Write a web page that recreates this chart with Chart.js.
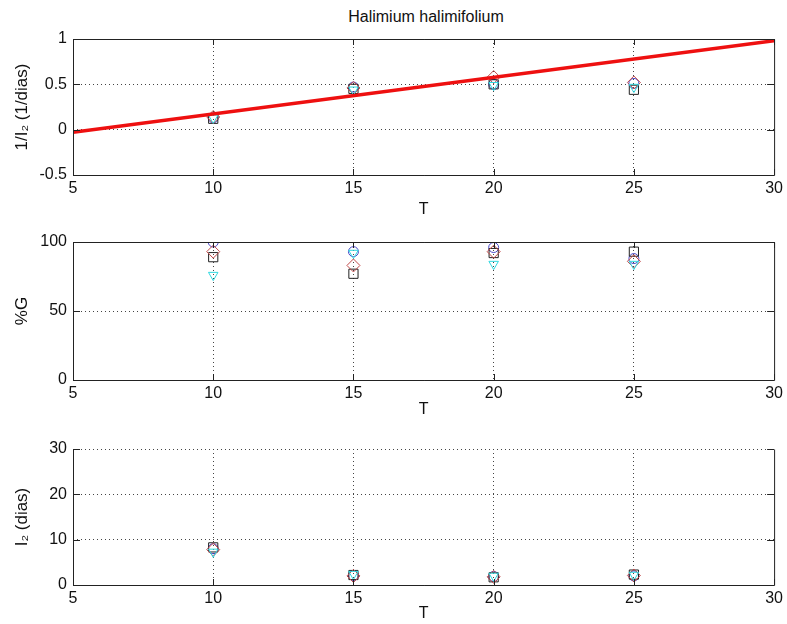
<!DOCTYPE html>
<html>
<head>
<meta charset="utf-8">
<script src="https://cdn.jsdelivr.net/npm/chart.js@4.4.1/dist/chart.umd.min.js"></script>
<style>
  body { margin: 0; background: #fff; width: 787px; height: 624px; position: relative; overflow: hidden; }
  canvas { position: absolute; left: 0; }
  #title { position: absolute; top: 8px; left: 73px; width: 706px; text-align: center; font: 16px "Liberation Sans", Arial, sans-serif; color: #111; }
</style>
</head>
<body>
<div id="title">Halimium halimifolium</div>
<canvas id="rateChart" width="787" height="220" style="top:0px"></canvas>
<canvas id="germChart" width="787" height="200" style="top:220px"></canvas>
<canvas id="daysChart" width="787" height="204" style="top:420px"></canvas>
<script>
const temps = [10, 15, 20, 25];
const xTicks = [5, 10, 15, 20, 25, 30];

// 1/I2 (1/dias)
const rateCircle = [0.13, 0.47, 0.50, 0.51];
const rateSquare = [0.12, 0.45, 0.50, 0.44];
const rateDiamond = [0.14, 0.46, 0.58, 0.52];
const rateTriangle = [0.13, 0.44, 0.49, 0.47];
const fitT = [5, 30];
const fitRate = [-0.03, 0.98];

// %G
const germCircle = [100, 93, 96, 88];
const germSquare = [89, 77, 92, 93];
const germDiamond = [93, 83, 93, 86];
const germTriangle = [76, 92, 84, 84];

// I2 (dias)
const daysCircle = [8.0, 2.1, 1.9, 2.0];
const daysSquare = [8.3, 2.2, 1.7, 2.3];
const daysDiamond = [7.8, 2.0, 1.8, 2.1];
const daysTriangle = [7.3, 2.4, 2.0, 2.2];

const FONT = '"Liberation Sans", Arial, sans-serif';
const pts = (xs, ys) => xs.map((x, i) => ({ x: x, y: ys[i] }));

function markerSets(c, s, d, t) {
    const base = { type: 'scatter', showLine: false, backgroundColor: 'transparent', borderWidth: 1, pointBorderWidth: 1 };
    return [
        { ...base, data: pts(temps, t), pointStyle: 'triangle', pointRotation: 180, pointRadius: 5.5, borderColor: '#30d8e0' },
        { ...base, data: pts(temps, d), pointStyle: 'rectRot', pointRadius: 6.5, borderColor: '#c04848' },
        { ...base, data: pts(temps, s), pointStyle: 'rect', pointRadius: 6.5, borderColor: '#202020' },
        { ...base, data: pts(temps, c), pointStyle: 'circle', pointRadius: 5, borderColor: '#4a48c8' }
    ];
}

// MATLAB-like box with inward ticks
const boxPlugin = {
    id: 'box',
    afterDraw(chart, args, opts) {
        const { ctx, chartArea: a, scales } = chart;
        ctx.save();
        ctx.strokeStyle = '#222';
        ctx.lineWidth = 1;
        ctx.beginPath();
        ctx.moveTo(a.left + 0.5, a.top + 0.5);
        ctx.lineTo(a.left + 0.5, a.bottom + 0.5);
        ctx.lineTo(a.right + 0.5, a.bottom + 0.5);
        ctx.lineTo(a.right + 0.5, a.top + 0.5);
        if (opts.topSolid) ctx.lineTo(a.left + 0.5, a.top + 0.5);
        scales.x.ticks.forEach(t => {
            const px = Math.round(scales.x.getPixelForValue(t.value)) + 0.5;
            ctx.moveTo(px, a.bottom); ctx.lineTo(px, a.bottom - 6);
            if (opts.topSolid) { ctx.moveTo(px, a.top); ctx.lineTo(px, a.top + 6); }
        });
        scales.y.ticks.forEach(t => {
            const py = Math.round(scales.y.getPixelForValue(t.value)) + 0.5;
            ctx.moveTo(a.left, py); ctx.lineTo(a.left + 7, py);
            ctx.moveTo(a.right, py); ctx.lineTo(a.right - 7, py);
        });
        ctx.stroke();
        ctx.restore();
    }
};

function makeChart(id, datasets, y, xHeight, topPad, topSolid) {
    const gridColor = (scaleMin, scaleMax, keepMax) => c =>
        (c.tick.value === scaleMin || (c.tick.value === scaleMax && !keepMax)) ? 'rgba(0,0,0,0)' : '#444';
    return new Chart(document.getElementById(id), {
        data: { datasets: datasets },
        plugins: [boxPlugin],
        options: {
            responsive: false, animation: false, devicePixelRatio: 1,
            layout: { padding: { top: topPad, right: 8, left: 0, bottom: 0 } },
            plugins: { legend: { display: false }, tooltip: { enabled: false }, box: { topSolid: topSolid } },
            scales: {
                x: {
                    type: 'linear', min: 5, max: 30,
                    afterBuildTicks: s => { s.ticks = xTicks.map(v => ({ value: v })); },
                    afterFit: s => { s.height = xHeight; },
                    grid: { color: gridColor(5, 30, false), drawTicks: false },
                    border: { display: false, dash: [1, 3] },
                    ticks: { padding: 4, color: '#111', font: { family: FONT, size: 16 }, callback: v => String(v) },
                    title: { display: true, text: 'T', color: '#111', font: { family: FONT, size: 16 }, padding: { top: 0, bottom: 1 } }
                },
                y: {
                    type: 'linear', min: y.min, max: y.max,
                    afterBuildTicks: s => { s.ticks = y.ticks.map(v => ({ value: v })); },
                    afterFit: s => { s.width = 73; },
                    grid: { color: gridColor(y.min, y.max, !topSolid), drawTicks: false },
                    border: { display: false, dash: [1, 3] },
                    ticks: { padding: 6, color: '#111', font: { family: FONT, size: 16 }, callback: v => String(v) },
                    title: { display: true, text: y.title, color: '#111', font: { family: FONT, size: 17 }, padding: { top: 12, bottom: 0 } }
                }
            }
        }
    });
}

const fitLine = {
    type: 'line', data: pts(fitT, fitRate), borderColor: '#ee1010', borderWidth: 3.5,
    pointRadius: 0, fill: false, tension: 0, order: -1
};

makeChart('rateChart', [fitLine, ...markerSets(rateCircle, rateSquare, rateDiamond, rateTriangle)],
    { min: -0.5, max: 1, ticks: [-0.5, 0, 0.5, 1], title: '1/I\u2082 (1/dias)' }, 45, 39, true);

makeChart('germChart', markerSets(germCircle, germSquare, germDiamond, germTriangle),
    { min: 0, max: 100, ticks: [0, 50, 100], title: '%G' }, 40, 22, true);

makeChart('daysChart', markerSets(daysCircle, daysSquare, daysDiamond, daysTriangle),
    { min: 0, max: 30, ticks: [0, 10, 20, 30], title: 'I\u2082 (dias)' }, 39, 29, false);
</script>
</body>
</html>
